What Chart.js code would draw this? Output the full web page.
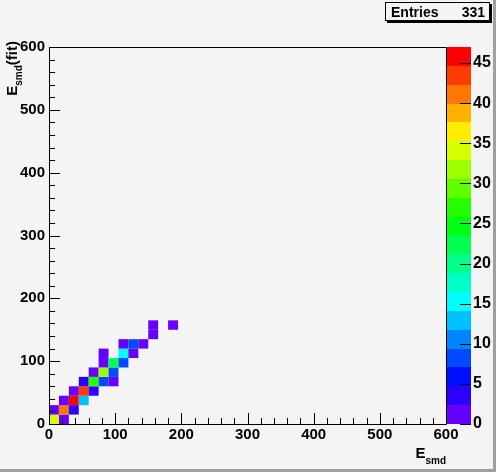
<!DOCTYPE html>
<html>
<head>
<meta charset="utf-8">
<script src="https://cdn.jsdelivr.net/npm/chart.js@4.4.0/dist/chart.umd.min.js"></script>
<style>
  body { margin: 0; background: #f4f4f4; }
  canvas { display: block; }
</style>
</head>
<body>
<canvas id="myChart" width="496" height="472"></canvas>
<script>
// 2D histogram, 40x40 bins of width 15 from 0 to 600 on both axes
const binWidth = 15;
const cellX = [0, 15, 0, 15, 30, 15, 30, 45, 30, 45, 60, 45, 60, 75, 90, 60, 75, 90, 75, 90, 105, 75, 105, 120, 105, 120, 135, 150, 150, 180];
const cellY = [0, 0, 15, 15, 15, 30, 30, 30, 45, 45, 45, 60, 60, 60, 60, 75, 75, 75, 90, 90, 90, 105, 105, 105, 120, 120, 120, 135, 150, 150];
const cellCount = [34, 1, 1, 41, 4, 1, 47, 13, 1, 43, 4, 4, 27, 8, 1, 1, 31, 8, 1, 22, 8, 1, 15, 1, 1, 8, 1, 1, 1, 1];
const axisTicks = [0, 100, 200, 300, 400, 500, 600];
const zTicks = [0, 5, 10, 15, 20, 25, 30, 35, 40, 45];
const zMax = 47;

// palette, 20 contour levels, low to high
const palette = [
  '#6600ff', '#2b00ff', '#000fff', '#004aff', '#0085ff',
  '#00c1ff', '#00fdff', '#00ffc6', '#00ff8b', '#00ff50',
  '#00ff15', '#24ff00', '#5fff00', '#9bff00', '#d4ff00',
  '#ffed00', '#ffb100', '#ff7600', '#ff3b00', '#ff0000'
];

const FONT = '"Liberation Sans", Arial, sans-serif';
const entries = cellCount.reduce((a, b) => a + b, 0);

function colorFor(v) {
  let band = Math.floor(v / zMax * palette.length);
  if (band >= palette.length) band = palette.length - 1;
  return palette[band];
}

const rootStyle = {
  id: 'rootStyle',
  beforeDraw(chart) {
    const ctx = chart.ctx;
    ctx.save();
    ctx.fillStyle = '#f4f4f4';
    ctx.fillRect(0, 0, chart.width, chart.height);
    // canvas border, darker on right and bottom
    ctx.fillStyle = '#a0a0a0';
    ctx.fillRect(0, chart.height - 3, chart.width, 3);
    ctx.fillRect(chart.width - 3, 0, 3, chart.height);
    ctx.restore();
  },
  beforeDatasetsDraw(chart) {
    const { ctx, scales } = chart;
    const x = scales.x, y = scales.y;
    ctx.save();
    cellCount.forEach((v, i) => {
      const left = x.getPixelForValue(cellX[i]);
      const right = x.getPixelForValue(cellX[i] + binWidth);
      const top = y.getPixelForValue(cellY[i] + binWidth);
      const bottom = y.getPixelForValue(cellY[i]);
      ctx.fillStyle = colorFor(v);
      ctx.fillRect(left, top, right - left, bottom - top);
    });
    ctx.restore();
  },
  afterDraw(chart) {
    const { ctx, chartArea: a, scales } = chart;
    const x = scales.x, y = scales.y, z = scales.z;
    ctx.save();

    // colour bar
    const barL = a.right + 1, barR = a.right + 25;
    palette.forEach((c, i) => {
      const lo = z.getPixelForValue(i * zMax / palette.length);
      const hi = z.getPixelForValue((i + 1) * zMax / palette.length);
      ctx.fillStyle = c;
      ctx.fillRect(barL, Math.round(hi), barR - barL, Math.round(lo) - Math.round(hi));
    });

    ctx.strokeStyle = '#000';
    ctx.lineWidth = 1;
    ctx.beginPath();
    zTicks.forEach(t => {
      const p = Math.round(z.getPixelForValue(t)) + 0.5;
      ctx.moveTo(barR, p);
      ctx.lineTo(barR - 11, p);
    });

    // frame
    ctx.rect(a.left + 0.5, a.top + 0.5, a.right - a.left, a.bottom - a.top);

    // inward ticks, 5 subdivisions per label
    for (let v = 0; v <= 600; v += 20) {
      const len = v % 100 === 0 ? 11 : 6;
      const px = Math.round(x.getPixelForValue(v)) + 0.5;
      ctx.moveTo(px, a.bottom);
      ctx.lineTo(px, a.bottom - len);
      const py = Math.round(y.getPixelForValue(v)) + 0.5;
      ctx.moveTo(a.left, py);
      ctx.lineTo(a.left + len, py);
    }
    ctx.stroke();

    // axis titles
    ctx.fillStyle = '#000';
    ctx.textAlign = 'left';
    ctx.textBaseline = 'alphabetic';
    ctx.font = 'bold 15px ' + FONT;
    const wE = ctx.measureText('E').width;
    ctx.font = 'bold 10px ' + FONT;
    const wSub = ctx.measureText('smd').width;
    ctx.fillText('smd', a.right - wSub, 464);
    ctx.font = 'bold 15px ' + FONT;
    ctx.fillText('E', a.right - wSub - wE, 458);

    ctx.save();
    ctx.translate(17, 41);
    ctx.rotate(-Math.PI / 2);
    ctx.font = 'bold 15px ' + FONT;
    const wFit = ctx.measureText('(fit)').width;
    ctx.fillText('(fit)', -wFit, 0);
    ctx.font = 'bold 10px ' + FONT;
    ctx.fillText('smd', -wFit - wSub, 5);
    ctx.font = 'bold 15px ' + FONT;
    ctx.fillText('E', -wFit - wSub - wE, 0);
    ctx.restore();

    // stats box
    const bx = 385, by = 2, bw = 105, bh = 19;
    ctx.fillStyle = '#000';
    ctx.fillRect(bx + 2, by + 2, bw, bh);
    ctx.fillStyle = '#f4f4f4';
    ctx.fillRect(bx, by, bw, bh);
    ctx.strokeRect(bx + 0.5, by + 0.5, bw - 1, bh - 1);
    ctx.fillStyle = '#000';
    ctx.font = 'bold 14px ' + FONT;
    ctx.fillText('Entries', bx + 6, by + 15);
    ctx.textAlign = 'right';
    ctx.fillText(String(entries), bx + bw - 5, by + 15);

    ctx.restore();
  }
};

const tickFont = { family: FONT, size: 15, weight: 'bold' };

const myChart = new Chart(document.getElementById('myChart').getContext('2d'), {
  type: 'scatter',
  data: {
    datasets: [{
      data: cellCount.map((v, i) => ({ x: cellX[i] + binWidth / 2, y: cellY[i] + binWidth / 2 })),
      pointRadius: 0,
      pointHoverRadius: 0
    }]
  },
  options: {
    responsive: false,
    animation: false,
    devicePixelRatio: 1,
    layout: { padding: { top: 47, left: 0, right: 0, bottom: 0 } },
    plugins: { legend: { display: false }, tooltip: { enabled: false } },
    scales: {
      x: {
        type: 'linear', position: 'bottom', min: 0, max: 600,
        afterBuildTicks: s => { s.ticks = axisTicks.map(v => ({ value: v })); },
        afterFit: s => { s.height = 48; },
        grid: { display: false, drawTicks: false },
        border: { display: false },
        ticks: { color: '#000', font: tickFont, padding: 2, maxRotation: 0, autoSkip: false }
      },
      y: {
        type: 'linear', position: 'left', min: 0, max: 600,
        afterBuildTicks: s => { s.ticks = axisTicks.map(v => ({ value: v })); },
        afterFit: s => { s.width = 49; },
        grid: { display: false, drawTicks: false },
        border: { display: false },
        ticks: { color: '#000', font: tickFont, padding: 4, autoSkip: false }
      },
      z: {
        type: 'linear', position: 'right', min: 0, max: zMax,
        afterBuildTicks: s => { s.ticks = zTicks.map(v => ({ value: v })); },
        afterFit: s => { s.width = 50; },
        grid: { display: false, drawTicks: false },
        border: { display: false },
        ticks: { color: '#000', font: { family: FONT, size: 16, weight: 'bold' }, padding: 27, autoSkip: false }
      }
    }
  },
  plugins: [rootStyle]
});
</script>
</body>
</html>
